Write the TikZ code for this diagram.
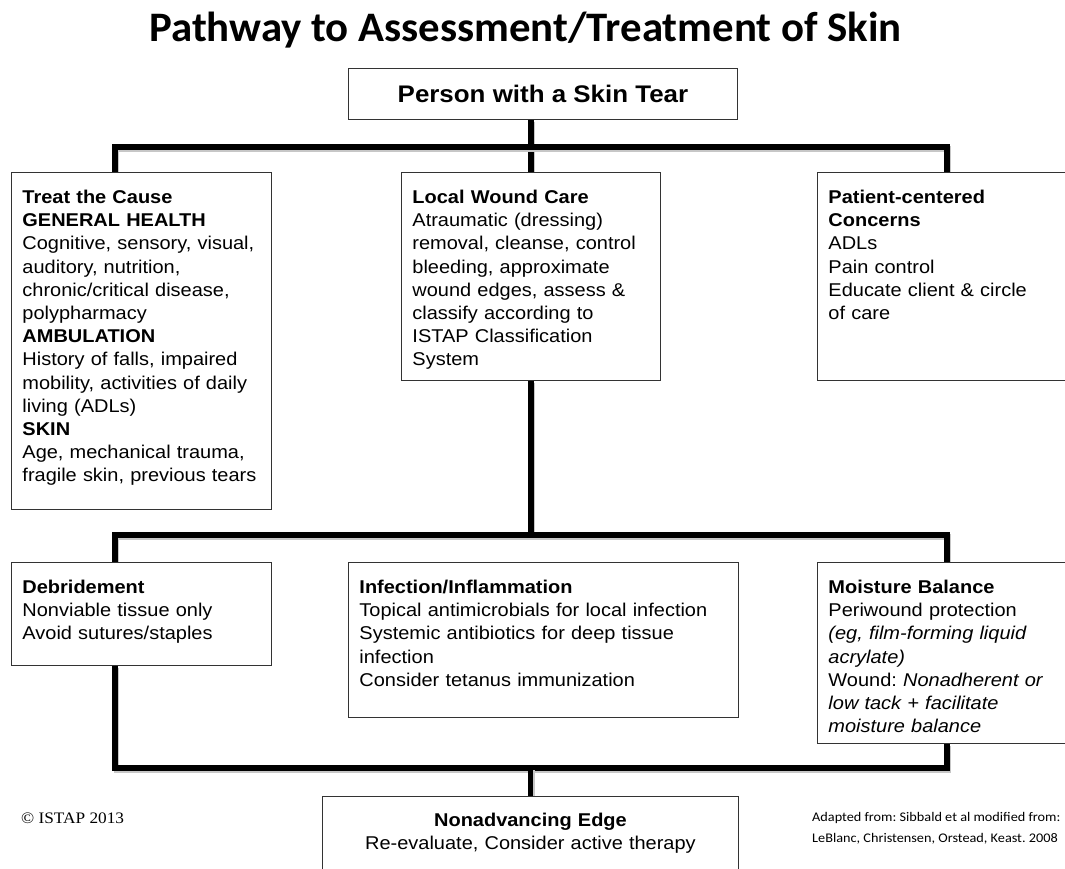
\documentclass[tikz,border=0pt]{standalone}
\usepackage{fontspec}
\setmainfont{Liberation Sans}[FakeStretch=1.08]
\newfontfamily\titlefont{Carlito}[FakeStretch=1.02]
\newfontfamily\sourcefont{Carlito}[FakeStretch=1.08]
\newfontfamily\notefont{Liberation Serif}[FakeStretch=1.08]
\usetikzlibrary{backgrounds}
\frenchspacing

\begin{document}
\begin{tikzpicture}[x=1pt, y=-1pt,
    panel/.style={draw=black!80, line width=0.9pt, fill=white, anchor=north west,
        align=left, inner xsep=11pt, inner ysep=0pt, text height=31pt,
        font=\fontsize{18.5}{23.2}\selectfont},
    bar/.style={line width=5.5pt,
        preaction={draw=black!22, line width=5.5pt,
            transform canvas={shift={(1.5pt,-1.8pt)}}}}]
    \useasboundingbox (0,0) rectangle (1065,869);

    % Title
    \node[anchor=base, font=\titlefont\bfseries\fontsize{42}{42}\selectfont] (title) at (525.5,42)
        {Pathway to Assessment/Treatment of Skin};

    % Start
    \node[draw=black!80, line width=0.9pt, fill=white, anchor=north west, minimum width=389pt,
        minimum height=51pt, font=\bfseries\fontsize{24}{26}\selectfont] (person) at (348,68)
        {Person with a Skin Tear};

    % First row
    \node[panel, text width=238pt, text depth=306pt] (cause) at (11,172) {%
        \textbf{Treat the Cause}\\
        \textbf{GENERAL HEALTH}\\
        Cognitive, sensory, visual,\\
        auditory, nutrition,\\
        chronic/critical disease,\\
        polypharmacy\\
        \textbf{AMBULATION}\\
        History of falls, impaired\\
        mobility, activities of daily\\
        living (ADLs)\\
        \textbf{SKIN}\\
        Age, mechanical trauma,\\
        fragile skin, previous tears};
    \node[panel, text width=237pt, text depth=177pt] (local) at (401,172) {%
        \textbf{Local Wound Care}\\
        Atraumatic (dressing)\\
        removal, cleanse, control\\
        bleeding, approximate\\
        wound edges, assess \&\\
        classify according to\\
        ISTAP Classification\\
        System};
    \node[panel, text width=236pt, text depth=177pt] (concerns) at (817,172) {%
        \textbf{Patient-centered}\\
        \textbf{Concerns}\\
        ADLs\\
        Pain control\\
        Educate client \& circle\\
        of care};

    % Second row
    \node[panel, text width=238pt, text depth=72pt] (debride) at (11,562) {%
        \textbf{Debridement}\\
        Nonviable tissue only\\
        Avoid sutures/staples};
    \node[panel, text width=368pt, text depth=124pt] (infection) at (348,562) {%
        \textbf{Infection/Inflammation}\\
        Topical antimicrobials for local infection\\
        Systemic antibiotics for deep tissue\\
        infection\\
        Consider tetanus immunization};
    \node[panel, text width=236pt, text depth=150pt] (moisture) at (817,562) {%
        \textbf{Moisture Balance}\\
        Periwound protection\\
        \textit{(eg, film-forming liquid}\\
        \textit{acrylate)}\\
        Wound: \textit{Nonadherent or}\\
        \textit{low tack + facilitate}\\
        \textit{moisture balance}};

    % End
    \node[panel, align=center, text width=394pt, text height=30pt, text depth=60pt] (edge) at (322,796) {%
        \textbf{Nonadvancing Edge}\\
        Re-evaluate, Consider active therapy};

    % Notes
    \node[anchor=base west, inner sep=0pt, font=\notefont\fontsize{16}{18}\selectfont] (copyright) at (21,823)
        {© ISTAP 2013};
    \node[anchor=base west, inner sep=0pt, font=\sourcefont\fontsize{13.2}{15}\selectfont] (source1) at (812,821)
        {Adapted from: Sibbald et al modified from:};
    \node[anchor=base west, inner sep=0pt, font=\sourcefont\fontsize{13.2}{15}\selectfont] (source2) at (812,842)
        {LeBlanc, Christensen, Orstead, Keast. 2008};

    % Connectors
    \coordinate (lx) at (115,0);
    \coordinate (rx) at (947,0);
    \begin{scope}[on background layer]
        \draw[bar] (local.north) -- (local.north |- person.south);
        \draw[bar] (lx |- cause.north) -- (lx |- 0,147) -- (rx |- 0,147) -- (rx |- concerns.north);
        \draw[bar] (local.south) -- (local.south |- 0,535);
        \draw[bar] (lx |- debride.north) -- (lx |- 0,535) -- (rx |- 0,535) -- (rx |- moisture.north);
        \draw[bar] (lx |- debride.south) -- (lx |- 0,768) -- (rx |- 0,768) -- (rx |- moisture.south);
        \draw[bar] (edge.north) -- (edge.north |- 0,768);
    \end{scope}
\end{tikzpicture}
\end{document}
